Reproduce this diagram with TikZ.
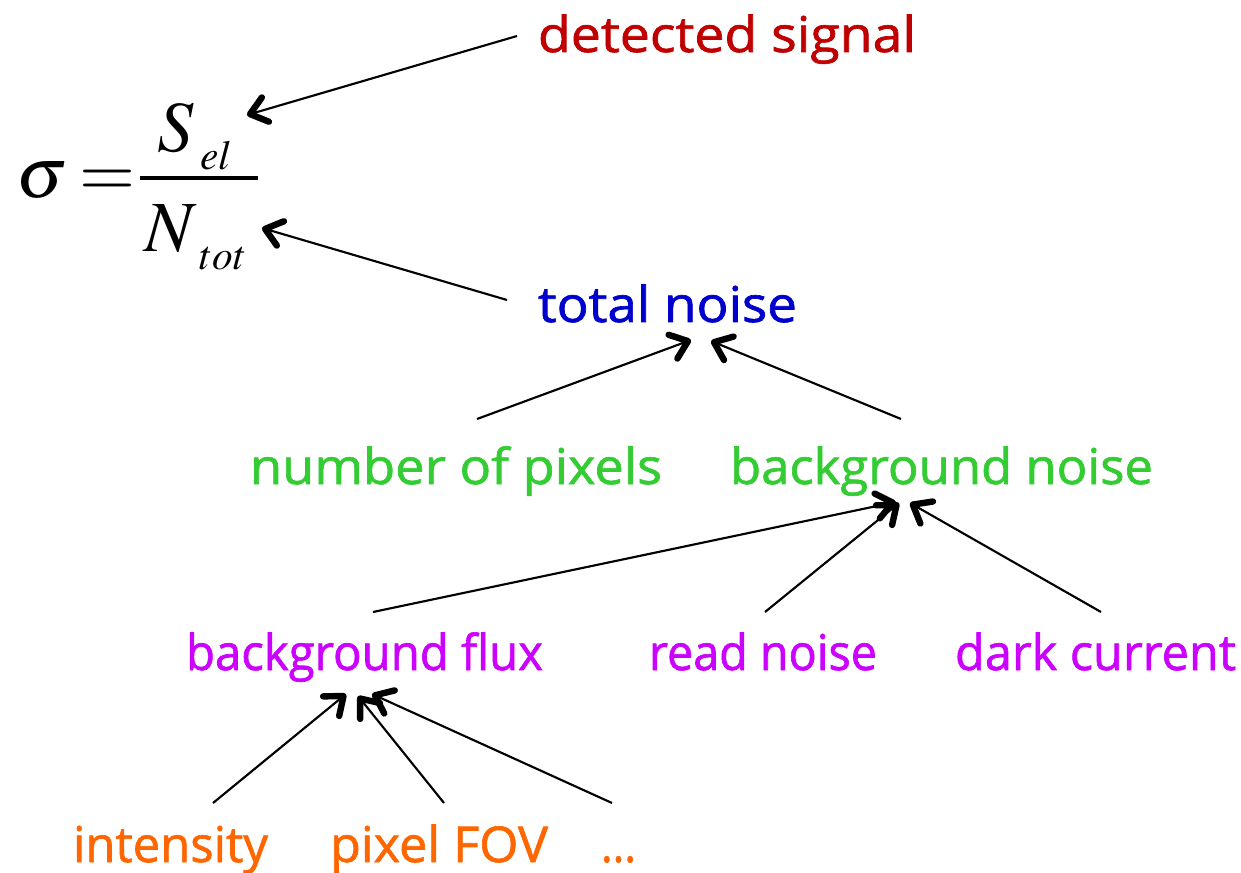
\documentclass[tikz,border=0pt]{standalone}
\usepackage{graphicx}
\usepackage{fontspec}
\usepackage{mathptmx}
\setmainfont{Open Sans}
\usetikzlibrary{arrows.meta}
\definecolor{cred}{RGB}{192,0,0}
\definecolor{cblue}{RGB}{0,0,204}
\definecolor{cgreen}{RGB}{51,204,51}
\definecolor{cmag}{RGB}{204,0,255}
\definecolor{corange}{RGB}{255,102,0}
\newcommand{\fitw}[2]{\resizebox{#1}{\height}{#2}}
\tikzset{
  lbl/.style={anchor=base, inner sep=0pt, font=\fontsize{37}{44}\selectfont\addfontfeature{FakeBold=1.3}},
  mbig/.style={anchor=base west, inner sep=0pt, font=\fontsize{54}{60}\selectfont},
  msub/.style={anchor=base west, inner sep=0pt, font=\fontsize{31}{36}\selectfont},
  arr/.style={line width=1.6pt, -{Straight Barb[length=12pt,width=19pt,line width=4.8pt 0,round]}},
}
\begin{document}
\begin{tikzpicture}[x=0.75pt,y=-0.75pt]
\useasboundingbox (0,0) rectangle (1241,873);
% formula
\node[mbig] (sig) at (16,198) {$\sigma$};
\node[mbig] (eq) at (79,197) {$=$};
\coordinate (barL) at (140,178); \coordinate (barR) at (258,178);
\draw[line width=2.4pt] (barL) -- (barR);
\node[mbig] (S) at (157,152) {$S$};
\node[msub] (el) at (200,170) {$el$};
\node[mbig] (N) at (144,252) {$N$};
\node[msub] (tt) at (199,270) {$tot$};
% labels
\node[lbl, text=cred] (det) at (727,52) {\fitw{283.5pt}{detected signal}};
\node[lbl, text=cblue] (tot) at (667.5,322) {\fitw{194.25pt}{total noise}};
\node[lbl, text=cgreen] (npix) at (456,484) {\fitw{309pt}{number of pixels}};
\node[lbl, text=cgreen] (bgn) at (941.5,484) {\fitw{317.25pt}{background noise}};
\node[lbl, text=cmag] (bgf) at (364.5,670) {\fitw{267.75pt}{background flux}};
\node[lbl, text=cmag] (rn) at (763,670) {\fitw{171pt}{read noise}};
\node[lbl, text=cmag] (dc) at (1095.5,670) {\fitw{210.75pt}{dark current}};
\node[lbl, text=corange] (int) at (170.5,862) {\fitw{146.25pt}{intensity}};
\node[lbl, text=corange] (fov) at (439,862) {\fitw{163.5pt}{pixel FOV}};
\node[lbl, text=corange] (dots) at (618.5,862) {\fitw{26.25pt}{...}};
% arrow end points
\coordinate (detT) at (517,36);  \coordinate (detH) at (247,115);
\coordinate (totT) at (507,300); \coordinate (totH) at (262,228);
\coordinate (npT) at (477,419);  \coordinate (npH) at (691,340);
\coordinate (bnT) at (901,419);  \coordinate (bnH) at (711,341);
\coordinate (bfT) at (373,612);  \coordinate (bfH) at (896,502);
\coordinate (rnT) at (765,612);  \coordinate (rnH) at (899,503);
\coordinate (dcT) at (1101,612); \coordinate (dcH) at (910,503);
\coordinate (inT) at (213,803);  \coordinate (inH) at (346,694);
\coordinate (fvT) at (444,803);  \coordinate (fvH) at (358,696);
\coordinate (dtT) at (612,803);  \coordinate (dtH) at (372,694);
\draw[arr] (detT) -- (detH);
\draw[arr] (totT) -- (totH);
\draw[arr] (npT) -- (npH);
\draw[arr] (bnT) -- (bnH);
\draw[arr] (bfT) -- (bfH);
\draw[arr] (rnT) -- (rnH);
\draw[arr] (dcT) -- (dcH);
\draw[arr] (inT) -- (inH);
\draw[arr] (fvT) -- (fvH);
\draw[arr] (dtT) -- (dtH);
\end{tikzpicture}
\end{document}
